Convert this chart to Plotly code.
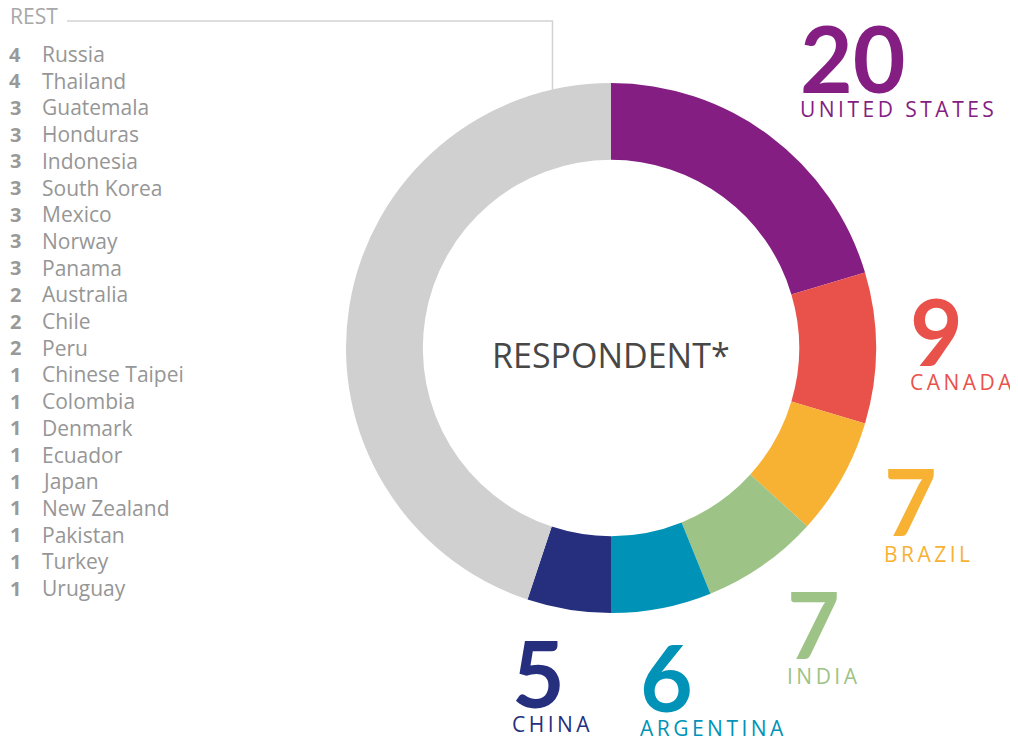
import plotly.graph_objects as go

W, H = 1018, 740
OFF = 8  # page body margin offset

# Main slices
countries = ["UNITED STATES", "CANADA", "BRAZIL", "INDIA", "ARGENTINA", "CHINA"]
counts = [20, 9, 7, 7, 6, 5]
colors = ["#841E82", "#E9524A", "#F7B133", "#9DC386", "#0093B7", "#262F7E"]

# Rest list
rest_names = ["Russia", "Thailand", "Guatemala", "Honduras", "Indonesia", "South Korea",
              "Mexico", "Norway", "Panama", "Australia", "Chile", "Peru", "Chinese Taipei",
              "Colombia", "Denmark", "Ecuador", "Japan", "New Zealand", "Pakistan",
              "Turkey", "Uruguay"]
rest_counts = [4, 4, 3, 3, 3, 3, 3, 3, 3, 2, 2, 2, 1, 1, 1, 1, 1, 1, 1, 1, 1]
rest_color = "#D0D0D0"

labels = countries + ["REST"]
values = counts + [sum(rest_counts)]
slice_colors = colors + [rest_color]

def px(x):
    return (x - OFF) / W

def py(y):
    return 1 - (y - OFF) / H

cx, cy, r = 611, 348, 265

fig = go.Figure(go.Pie(
    labels=labels, values=values, sort=False, direction="clockwise", rotation=0,
    hole=0.71, marker=dict(colors=slice_colors, line=dict(width=0)),
    textinfo="none", hoverinfo="label+value", showlegend=False,
    domain=dict(x=[px(cx - r), px(cx + r)], y=[py(cy + r), py(cy - r)]),
))

def spaced(s):
    return "\u2009".join(list(s))

FONT = "Open Sans"
NUMFONT = "Lato"
annotations = []

# Big number + label positions (left x, number center y, label center y) in pixels
pos = [
    (798, 58, 109),
    (908, 330, 382),
    (882, 500, 554),
    (785, 623, 676),
    (638, 676, 728),
    (510, 672, 724),
]
for (x, ny, ly), n, name, col in zip(pos, counts, countries, colors):
    annotations.append(dict(x=px(x), y=py(ny), xref="paper", yref="paper",
                            text=f"<b>{n}</b>", showarrow=False, xanchor="left", yanchor="middle",
                            font=dict(family=NUMFONT, size=91, color=col)))
    annotations.append(dict(x=px(x), y=py(ly), xref="paper", yref="paper",
                            text=spaced(name), showarrow=False, xanchor="left", yanchor="middle",
                            font=dict(family=FONT, size=21, color=col)))

# Center text
annotations.append(dict(x=px(cx), y=py(355), xref="paper", yref="paper",
                        text="RESPONDENT*", showarrow=False, xanchor="center", yanchor="middle",
                        font=dict(family=FONT, size=34, color="#474747")))

# REST header
annotations.append(dict(x=px(8), y=py(16), xref="paper", yref="paper",
                        text="REST", showarrow=False, xanchor="left", yanchor="middle",
                        font=dict(family=FONT, size=21, color="#A8A8A8")))

# Rest list
for i, (nm, c) in enumerate(zip(rest_names, rest_counts)):
    y = 54 + i * 26.7
    annotations.append(dict(x=px(23), y=py(y), xref="paper", yref="paper",
                            text=f"<b>{c}</b>", showarrow=False, xanchor="right", yanchor="middle",
                            font=dict(family=FONT, size=20, color="#999999")))
    annotations.append(dict(x=px(40), y=py(y), xref="paper", yref="paper",
                            text=nm, showarrow=False, xanchor="left", yanchor="middle",
                            font=dict(family=FONT, size=21, color="#969696")))

shapes = [dict(type="path", xref="paper", yref="paper",
               path=f"M {px(67)} {py(21)} L {px(552.5)} {py(21)} L {px(552.5)} {py(91)}",
               line=dict(color="#D3D3D3", width=1.5))]

fig.update_layout(width=W, height=H, margin=dict(l=0, r=0, t=0, b=0),
                  paper_bgcolor="white", plot_bgcolor="white",
                  annotations=annotations, shapes=shapes)

fig.write_html("out.html")
